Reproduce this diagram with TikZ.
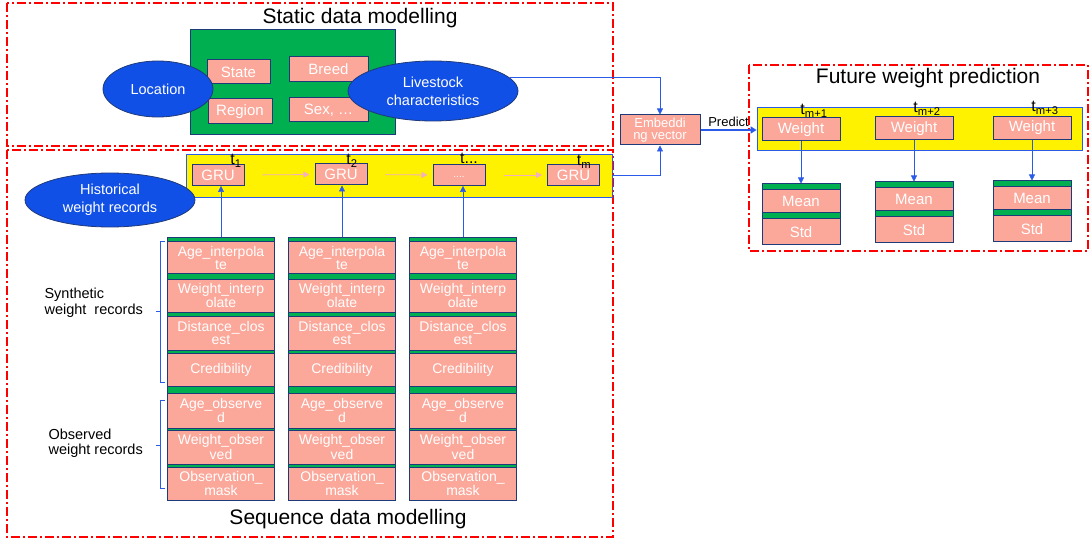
\documentclass[tikz,border=0pt]{standalone}
\usepackage{fontspec}
\setmainfont{Liberation Sans}
\usetikzlibrary{shapes.geometric,arrows.meta}

\definecolor{salmon}{HTML}{FBA79A}
\definecolor{leaf}{HTML}{00B050}
\definecolor{navy}{HTML}{1F3A78}
\definecolor{royal}{HTML}{1150E6}
\definecolor{wire}{HTML}{2A5BE8}
\definecolor{blush}{HTML}{F4B0BE}

\begin{document}
\begin{tikzpicture}[
        x=1pt, y=-1pt,
        field/.style={draw=navy, line width=1pt, fill=salmon, text=white,
            align=center, inner sep=0pt, font=\fontsize{14}{12.5}\selectfont},
        blob/.style={ellipse, draw=navy, line width=0.8pt, fill=royal, text=white,
            align=center, inner sep=0pt, font=\fontsize{14.5}{18}\selectfont},
        zone/.style={draw=red, line width=1.3pt, dash pattern=on 9pt off 3pt on 2pt off 3pt},
        band/.style={draw=wire, line width=0.8pt, fill=yellow, inner sep=0pt},
        stack/.style={draw=navy, line width=1pt, fill=leaf, inner sep=0pt},
        title/.style={font=\fontsize{21}{24}\selectfont},
        stamp/.style={inner sep=0pt, font=\fontsize{16}{16}\selectfont},
        big/.style={font=\fontsize{15}{15}\selectfont},
        link/.style={draw=wire, line width=0.6pt, -{Triangle[width=6pt,length=6pt]}},
        flow/.style={draw=blush, line width=0.8pt, -{Triangle[width=6pt,length=6pt]},
            shorten <=18pt, shorten >=5pt}
    ]
    \useasboundingbox (0,0) rectangle (1090,540);

    % dash-dot frames
    \draw[zone] (7,3) rectangle (613,146);
    \draw[zone] (7,150) rectangle (613,537);
    \draw[zone] (749,65) rectangle (1088,251);

    \node[title, name=statictitle] at (360,18) {Static data modelling};
    \node[title, name=seqtitle] at (348,519) {Sequence data modelling};
    \node[title, name=futuretitle] at (928,78) {Future weight prediction};

    % static attributes
    \node[
        stack,
        minimum width=205pt,
        minimum height=105pt,
        name=staticbox
    ] at (292.5,82.5) {};
    \node[field, big, minimum width=63pt, minimum height=24pt, name=state] at (238.5,72) {State};
    \node[field, big, minimum width=79pt, minimum height=25pt, name=breed] at (328.5,69.5) {Breed};
    \node[field, big, minimum width=64pt, minimum height=25pt, name=region] at (240,111.5) {Region};
    \node[field, big, minimum width=79pt, minimum height=24pt, name=sex] at (328.5,110) {Sex, \dots};

    \node[blob, minimum width=110pt, minimum height=56pt, name=location] at (158,89) {Location};
    \node[blob, minimum width=170pt, minimum height=60pt, name=livestock] at (433,91) {Livestock\\characteristics};

    % embedding
    \node[
        field,
        minimum width=80pt,
        minimum height=30pt,
        name=emb,
        font=\fontsize{13}{12.5}\selectfont
    ] at (660,130) {Embeddi\\ng vector};

    % recurrent band
    \node[band, minimum width=426pt, minimum height=43pt, name=gruband] at (399,175.5) {};
    \node[field, big, minimum width=52pt, minimum height=21pt, name=g1] at (218,175) {GRU};
    \node[field, big, minimum width=52pt, minimum height=21pt, name=g2] at (341,174.5) {GRU};
    \node[field, minimum width=52pt, minimum height=21pt, name=g3] at (459,175) {\fontsize{10}{10}\selectfont\raisebox{-5pt}{....}};
    \node[field, big, minimum width=52pt, minimum height=21pt, name=g4] at (573.5,175) {GRU};

    \node[stamp, name=t1] at (236,161) {t\textsubscript{1}};
    \node[stamp, name=t2] at (352,161) {t\textsubscript{2}};
    \node[stamp, name=t3] at (469,158) {t...};
    \node[stamp, name=t4] at (584,162) {t\textsubscript{m}};

    \draw[flow] (g1.east) -- (g2.west);
    \draw[flow] (g2.east) -- (g3.west);
    \draw[flow] (g3.east) -- (g4.west);

    \node[blob, minimum width=170pt, minimum height=54pt, name=historical] at (110,200) {Historical\\weight records};

    % feature columns
    \foreach \c/\cx in {1/221, 2/342, 3/463} {
        \node[stack, minimum width=107pt, minimum height=262pt, name=col\c] at (\cx,369) {};
        \node[field, minimum width=107pt, minimum height=32pt, name=ai\c] at (\cx,258) {Age\_interpola\\te};
        \node[field, minimum width=107pt, minimum height=33pt, name=wi\c] at (\cx,295.5) {Weight\_interp\\olate};
        \node[field, minimum width=107pt, minimum height=34pt, name=dc\c] at (\cx,333) {Distance\_clos\\est};
        \node[field, minimum width=107pt, minimum height=33pt, name=cr\c] at (\cx,369.5) {Credibility};
        \node[field, minimum width=107pt, minimum height=35pt, name=ao\c] at (\cx,410.5) {Age\_observe\\d};
        \node[field, minimum width=107pt, minimum height=34pt, name=wo\c] at (\cx,447) {Weight\_obser\\ved};
        \node[field, minimum width=107pt, minimum height=33pt, name=om\c] at (\cx,483.5) {Observation\_\\mask};
        \draw[link] (col\c.north) -- (col\c.north |- g\c.south);
    }

    % brackets
    \draw[wire, line width=0.6pt] (165,241) -- (160,241) -- (160,382) -- (165,382);
    \draw[wire, line width=0.6pt] (160,311) -- (156,311);
    \draw[wire, line width=0.6pt] (165,400) -- (160,400) -- (160,488) -- (165,488);
    \draw[wire, line width=0.6pt] (160,445) -- (156,445);

    \node[anchor=west, align=left, font=\fontsize{14.5}{15.5}\selectfont, name=synthetic] at (41,303) {Synthetic\\weight\ \ records};
    \node[anchor=west, align=left, font=\fontsize{14.5}{15.5}\selectfont, name=observed] at (45,443) {Observed\\weight records};

    % prediction head
    \node[band, minimum width=325pt, minimum height=43pt, name=futureband] at (919.5,128.5) {};
    \foreach \c/\cx/\dy/\lab in {1/801/0/m+1, 2/914/-2/m+2, 3/1032/-3/m+3} {
        \node[field, big, minimum width=78pt, minimum height=23pt, name=w\c] at (\cx,129.5+\dy/2) {Weight};
        \node[stamp, name=tf\c] at (\cx+13,111+\dy) {t\textsubscript{\lab}};
        \node[stack, minimum width=78pt, minimum height=61pt, name=mc\c] at (\cx,214.5+\dy) {};
        \node[field, big, minimum width=78pt, minimum height=23pt, name=mean\c] at (\cx,201.5+\dy) {Mean};
        \node[field, big, minimum width=78pt, minimum height=26pt, name=std\c] at (\cx,232+\dy) {Std};
        \draw[link] (w\c.south) -- (mc\c.north);
    }

    % connectors into the embedding
    \draw[link] (livestock.10) -| (emb.north);
    \draw[link] (gruband.east) -| (emb.south);
    \draw[wire, line width=2pt, -{Triangle[width=7pt,length=6pt]}] (emb.east) -- (emb.east -| futureband.west)
        node[midway, above, text=black, inner sep=2pt, font=\fontsize{13}{13}\selectfont] {Predict};
\end{tikzpicture}
\end{document}
